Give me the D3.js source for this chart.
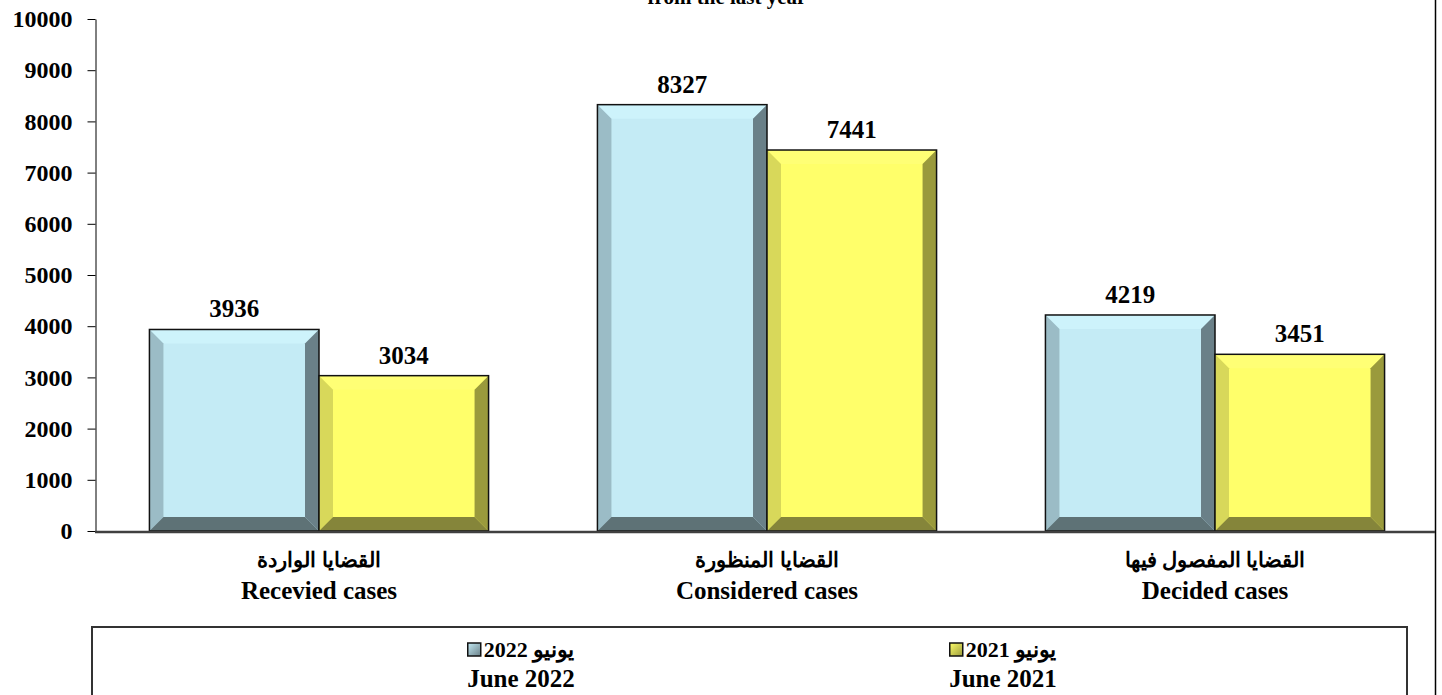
<!DOCTYPE html>
<html>
<head>
<meta charset="utf-8">
<script src="https://cdn.jsdelivr.net/npm/d3@7"></script>
<style>
  body { margin: 0; background: #fff; }
  text { font-family: "Liberation Serif", "Times New Roman", serif; font-weight: bold; fill: #000; }
</style>
</head>
<body>
<div class="chart"></div>
<script>
var categoriesAr = ["القضايا الواردة", "القضايا المنظورة", "القضايا المفصول فيها"];
var categoriesEn = ["Recevied cases", "Considered cases", "Decided cases"];
var seriesAr = ["يونيو 2022", "يونيو 2021"];
var seriesEn = ["June 2022", "June 2021"];
var june2022 = [3936, 8327, 4219];
var june2021 = [3034, 7441, 3451];
var yTicks = [0, 1000, 2000, 3000, 4000, 5000, 6000, 7000, 8000, 9000, 10000];

var width = 1442;
var height = 695;

// bevel colours: face, top, left, right, bottom
var palettes = [
  { face: "#c4ebf5", top: "#cdf3fb", left: "#9bbcc6", right: "#6a8088", bottom: "#5e7276" },
  { face: "#ffff6a", top: "#ffff75", left: "#d8d85a", right: "#9a9a3c", bottom: "#85853a" }
];

var svg = d3.select(".chart").append("svg")
  .attr("width", width)
  .attr("height", height);

var x0 = d3.scaleBand().domain(categoriesEn).range([95, 1439]).paddingInner(0.243).paddingOuter(0.1215);
var x1 = d3.scaleBand().domain(seriesEn).range([0, x0.bandwidth()]);
var y = d3.scaleLinear().domain([0, 10000]).range([531, 19]);

// title (cut at top)
svg.append("text")
  .attr("x", 727).attr("y", 4)
  .attr("text-anchor", "middle")
  .style("font-size", "21px")
  .text("from the last year");

// right page line
svg.append("line")
  .attr("x1", 1435.5).attr("x2", 1435.5)
  .attr("y1", 0).attr("y2", height)
  .attr("stroke", "#000").attr("stroke-width", 1.5);

// y axis
var yAxis = svg.append("g")
  .attr("transform", "translate(95.5,0)")
  .call(d3.axisLeft(y).tickValues(yTicks).tickFormat(d3.format("d")).tickSize(8).tickSizeOuter(0).tickPadding(15));
yAxis.select(".domain").attr("stroke", "#000");
yAxis.selectAll(".tick line").attr("stroke", "#000");
yAxis.selectAll(".tick text").style("font-size", "24px").attr("fill", "#000");

function bevel(g, x, w, v, p) {
  var top = y(v), bot = y(0), b = 14;
  var h = bot - top;
  var bb = Math.min(b, h / 2), bx = Math.min(b, w / 2);
  var xl = x, xr = x + w;
  g.append("rect").attr("x", xl).attr("y", top).attr("width", w).attr("height", h).attr("fill", p.face);
  g.append("polygon").attr("fill", p.top)
    .attr("points", [[xl, top], [xr, top], [xr - bx, top + bb], [xl + bx, top + bb]].join(" "));
  g.append("polygon").attr("fill", p.left)
    .attr("points", [[xl, top], [xl + bx, top + bb], [xl + bx, bot - bb], [xl, bot]].join(" "));
  g.append("polygon").attr("fill", p.right)
    .attr("points", [[xr, top], [xr, bot], [xr - bx, bot - bb], [xr - bx, top + bb]].join(" "));
  g.append("polygon").attr("fill", p.bottom)
    .attr("points", [[xl, bot], [xl + bx, bot - bb], [xr - bx, bot - bb], [xr, bot]].join(" "));
  g.append("rect").attr("x", xl).attr("y", top).attr("width", w).attr("height", h)
    .attr("fill", "none").attr("stroke", "#111").attr("stroke-width", 1.5);
}

var series = [june2022, june2021];
var bars = svg.append("g").attr("class", "bars");
categoriesEn.forEach(function (c, i) {
  series.forEach(function (vals, s) {
    var bx = x0(c) + x1(seriesEn[s]);
    bevel(bars, bx, x1.bandwidth(), vals[i], palettes[s]);
    bars.append("text")
      .attr("x", bx + x1.bandwidth() / 2)
      .attr("y", y(vals[i]) - 12)
      .attr("text-anchor", "middle")
      .style("font-size", "25px")
      .text(vals[i]);
  });
});

// x axis line
svg.append("line")
  .attr("x1", 95).attr("x2", 1435)
  .attr("y1", 532).attr("y2", 532)
  .attr("stroke", "#404040").attr("stroke-width", 2.5);

// category labels
var cats = svg.append("g");
categoriesEn.forEach(function (c, i) {
  var cx = x0(c) + x0.bandwidth() / 2;
  cats.append("text").attr("x", cx).attr("y", 567)
    .attr("text-anchor", "middle").style("font-size", "21px")
    .text(categoriesAr[i]);
  cats.append("text").attr("x", cx).attr("y", 599)
    .attr("text-anchor", "middle").style("font-size", "25px")
    .text(c);
});

// legend
var legend = svg.append("g");
legend.append("rect")
  .attr("x", 92).attr("y", 627).attr("width", 1315).attr("height", 90)
  .attr("fill", "#fff").attr("stroke", "#333").attr("stroke-width", 2);
var legendX = [521, 1003];
seriesEn.forEach(function (s, i) {
  var item = legend.append("g");
  var p = palettes[i];
  var grad = svg.append("defs").append("linearGradient")
    .attr("id", "lg" + i).attr("x1", "0").attr("y1", "0").attr("x2", "1").attr("y2", "1");
  grad.append("stop").attr("offset", "0").attr("stop-color", p.face);
  grad.append("stop").attr("offset", "1").attr("stop-color", p.right);
  var t = item.append("text").attr("x", legendX[i] + 8).attr("y", 657)
    .attr("text-anchor", "middle").style("font-size", "22px")
    .text(seriesAr[i]);
  var bb = t.node().getBBox();
  item.append("rect")
    .attr("x", bb.x - 16).attr("y", 643).attr("width", 13).attr("height", 13)
    .attr("fill", "url(#lg" + i + ")").attr("stroke", "#111").attr("stroke-width", 1.5);
  item.append("text").attr("x", legendX[i]).attr("y", 687)
    .attr("text-anchor", "middle").style("font-size", "25px")
    .text(s);
});
</script>
</body>
</html>
